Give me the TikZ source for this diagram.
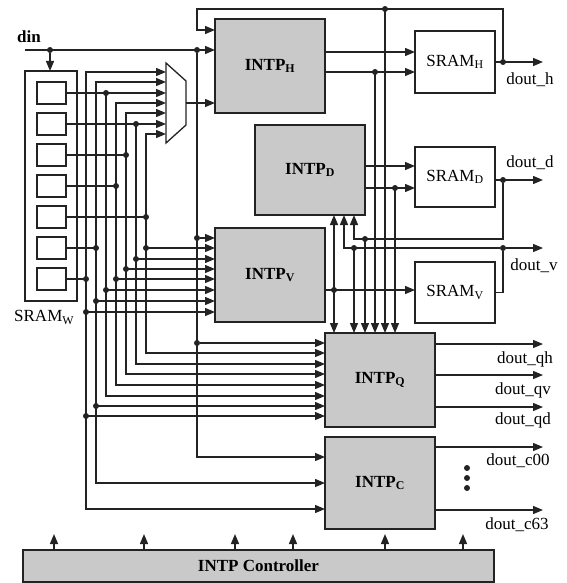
\documentclass[tikz,border=0pt]{standalone}
\usepackage{fontspec}
\setmainfont{Liberation Serif}
\usetikzlibrary{arrows.meta,positioning,calc}
\definecolor{ink}{RGB}{35,35,35}
\definecolor{blkgray}{RGB}{201,201,201}
\tikzset{
  blk/.style={draw=ink,fill=blkgray,line width=1.3pt,anchor=north west,inner sep=0pt,outer sep=0pt,
    minimum width=110pt,minimum height=94pt,font=\fontsize{17}{19}\selectfont\bfseries},
  mem/.style={draw=ink,fill=white,line width=1.3pt,anchor=north west,inner sep=0pt,outer sep=0pt,
    minimum width=80pt,minimum height=61pt,font=\fontsize{17}{19}\selectfont},
  cell/.style={draw=ink,line width=1.3pt,anchor=north west,minimum width=29pt,
    minimum height=22pt,inner sep=0pt,outer sep=0pt},
  wire/.style={draw=ink,line width=1.3pt},
  flow/.style={wire,-{Triangle[length=10pt,width=8pt]}},
  flows/.style={wire,{Triangle[length=10pt,width=8pt]}-{Triangle[length=10pt,width=8pt]}},
  jdot/.style={circle,fill=ink,minimum size=6pt,inner sep=0pt},
  sig/.style={font=\fontsize{17}{19}\selectfont,inner sep=0pt},
}

\begin{document}
\begin{tikzpicture}[x=1pt,y=-1pt]
  \useasboundingbox (0,0) rectangle (566,583);
  % blocks
  \node[blk] (H) at (215,19) {INTP\textsubscript{H}};
  \node[blk,minimum height=90pt] (D) at (255,125) {INTP\textsubscript{D}};
  \node[blk] (V) at (215,228) {INTP\textsubscript{V}};
  \node[blk] (Q) at (325,333) {INTP\textsubscript{Q}};
  \node[blk,minimum height=92pt] (C) at (325,437) {INTP\textsubscript{C}};
  \node[mem,minimum height=62pt] (SH) at (415,31) {SRAM\textsubscript{H}};
  \node[mem,minimum height=60pt] (SD) at (415,147) {SRAM\textsubscript{D}};
  \node[mem] (SV) at (415,262) {SRAM\textsubscript{V}};
  \node[blk,minimum width=471pt,minimum height=32pt] (ctrl) at (23,550) {INTP Controller};
  % SRAM_W and its words
  \node[cell,minimum width=52pt,minimum height=230pt] (W) at (25,71) {};
  \node[sig,anchor=north west] (Wlbl) at (14,310) {SRAM\textsubscript{W}};
  \foreach \i in {1,...,7}
    \node[cell] (w\i) at (37,{82+31*(\i-1)}) {};
  % mux
  \draw[wire,fill=white] (166,63) -- (186,81) -- (186,125) -- (166,143) -- cycle;
  \coordinate (muxin) at (166,103);
  \coordinate (muxout) at (186,103);
  \draw[flow] (muxout) -- (muxout -| H.west);

  % din
  \coordinate (din) at (25,50);
  \node[sig,font=\fontsize{17}{19}\selectfont\bfseries] (dinlbl) at (29,37) {din};
  \node[jdot] (j0) at (50,50) {};
  \node[jdot] (j1) at (197,50) {};
  \draw[flow] (din) -- (din -| H.west);
  \draw[flow] (j0) -- (j0 |- W.north);
  \draw[flow] (j1) |- (C.west |- 0,457);
  \node[jdot] (j2) at (197,238) {};
  \node[jdot] (j3) at (197,343) {};
  \draw[flow] (j2) -- (V.west |- j2);
  \draw[flow] (j3) -- (Q.west |- j3);

  % buses from the SRAM_W words
  \foreach \c/\bx/\my/\vy/\ey/\t in {7/86/72/312/509/C,6/96/82/301/483/C,1/106/93/290/396/Q,
      4/116/103/279/385/Q,3/126/113/269/374/Q,2/136/124/259/364/Q,5/146/134/248/353/Q} {
    \draw[flows] (muxin |- 0,\my) -- (\bx,\my) -- (\bx,\ey) -- (\t.west |- 0,\ey);
    \draw[wire] (w\c.east) -- (w\c.east -| \bx,0) node[jdot] (k\c) {};
    \draw[flow] (\bx,\vy) node[jdot] (v\c) {} -- (V.west |- 0,\vy);
  }
  \foreach \bx/\qy in {86/416,96/406}
    \draw[flow] (\bx,\qy) node[jdot] (q\bx) {} -- (Q.west |- 0,\qy);

  % into the SRAMs
  \draw[flow] (H.east |- 0,52) -- (SH.west |- 0,52);
  \draw[flow] (H.east |- 0,72) -- (SH.west |- 0,72);
  \draw[flow] (D.east |- 0,166) -- (SD.west |- 0,166);
  \draw[flow] (D.east |- 0,188) -- (SD.west |- 0,188);
  \draw[flow] (V.east |- 0,290) -- (SV.west |- 0,290);

  % outputs and feedback
  \node[jdot] (fh) at (503,62) {};
  \node[jdot] (fd) at (503,180) {};
  \node[jdot] (fv) at (503,248) {};
  \coordinate (oh) at (543,62);
  \coordinate (od) at (543,180);
  \coordinate (ov) at (543,248);
  \draw[flow] (SH.east) -- (oh);
  \draw[flow] (SD.east |- fd) -- (od);
  \draw[wire] (SV.east) -| (fv);
  \draw[flow] (fv) -- (ov);
  \draw[flow] (fh) |- (197,9) |- (H.west |- 0,30);
  \draw[flow] (fd) |- (354,239) -- (D.south -| 354,0);
  \draw[flow] (fv) -- (344,248) -- (D.south -| 344,0);
  \draw[flows] (D.south -| 334,0) -- (Q.north -| 334,0);
  \node[jdot] (t0) at (334,290) {};
  \foreach \tx/\ty in {354/248,365/239,375/72,385/9,395/188}
    \draw[flow] (\tx,\ty) node[jdot] (t\tx) {} -- (Q.north -| \tx,0);

  \foreach \n/\oy in {qh/344,qv/375,qd/407}
    \draw[flow] (Q.east |- 0,\oy) -- (543,\oy) coordinate (o\n);
  \foreach \n/\oy in {c00/447,c63/510}
    \draw[flow] (C.east |- 0,\oy) -- (543,\oy) coordinate (o\n);
  \foreach \n/\lx/\ly in {h/530/80,d/530/163,v/534/266,qh/525/359,qv/523/390,qd/523/420,
      c00/518/461,c63/517/525}
    \node[sig] (l\n) at (\lx,\ly) {dout\_\n};
  \foreach \i/\dy in {1/468,2/478,3/488}
    \node[jdot] (vd\i) at (467,\dy) {};

  % control lines
  \foreach \ax in {54,144,235,293,385,463}
    \draw[flow] (ctrl.north -| \ax,0) -- ++(0,-16) coordinate (ca\ax);
\end{tikzpicture}
\end{document}
